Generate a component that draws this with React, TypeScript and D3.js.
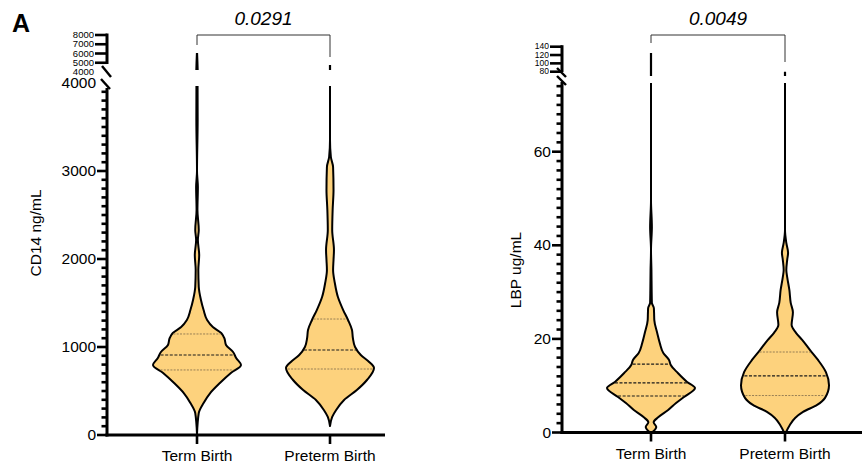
import React, { useEffect } from "react";
import * as d3 from "d3";

const groups = ["Term Birth", "Preterm Birth"];

// CD14 violins: level (ng/mL) and relative half-width
const cd14TermLevels = [10, 250, 364, 477, 591, 705, 795, 875, 943, 1023, 1102, 1159, 1227, 1307, 1420, 1534, 1682, 1875, 2045, 2216, 2330, 2557, 2818, 3000, 3580, 6050];
const cd14TermWidths = [0, 0.04, 0.15, 0.3, 0.52, 0.77, 1, 0.89, 0.82, 0.66, 0.62, 0.55, 0.36, 0.23, 0.15, 0.09, 0.04, 0.03, 0.05, 0.02, 0.04, 0.01, 0.02, 0, 0.015, 0];
const cd14PretermLevels = [102, 205, 284, 398, 511, 625, 761, 830, 909, 1000, 1102, 1193, 1307, 1420, 1568, 1727, 1875, 1989, 2102, 2330, 2557, 2784, 3045, 3159, 3352, 4750];
const cd14PretermWidths = [0, 0.05, 0.14, 0.32, 0.61, 0.84, 1, 0.89, 0.7, 0.57, 0.52, 0.5, 0.41, 0.3, 0.18, 0.11, 0.07, 0.08, 0.09, 0.05, 0.06, 0.08, 0.07, 0.02, 0, 0];
// Q1, median, Q3
const cd14TermQuartiles = [739, 909, 1148];
const cd14PretermQuartiles = [750, 966, 1318];

// LBP violins (ug/mL)
const lbpTermLevels = [0, 1.2, 2.2, 3.3, 4.8, 6.3, 7.6, 9.5, 10.8, 12.7, 14.4, 15.5, 17.0, 19.1, 21.3, 24.0, 25.5, 26.6, 27.7, 30.4, 34.7, 39.0, 43.9, 49.7, 125];
const lbpTermWidths = [0.02, 0.12, 0.06, 0.17, 0.39, 0.57, 0.75, 1, 0.82, 0.61, 0.45, 0.41, 0.28, 0.2, 0.14, 0.075, 0.07, 0.065, 0.02, 0.015, 0.01, 0, 0.02, 0, 0];
const lbpPretermLevels = [0, 1.6, 3.1, 4.4, 5.9, 7.4, 10.1, 12.9, 15.5, 17.6, 19.8, 21.3, 23.0, 25.7, 27.7, 30.4, 33.2, 34.7, 36.9, 38.4, 40.5, 43.3, 80];
const lbpPretermWidths = [0.02, 0.11, 0.23, 0.41, 0.73, 0.91, 1, 0.93, 0.75, 0.57, 0.39, 0.25, 0.15, 0.18, 0.13, 0.1, 0.05, 0.03, 0.05, 0.07, 0.03, 0, 0];
const lbpTermQuartiles = [7.8, 10.6, 14.6];
const lbpPretermQuartiles = [7.9, 12.1, 17.2];

const cd14LowerTicks = [0, 1000, 2000, 3000];
const cd14LowerLabels = [0, 1000, 2000, 3000, 4000];
const cd14UpperTicks = [5000, 6000, 7000, 8000];
const cd14UpperLabels = [4000, 5000, 6000, 7000, 8000];
const lbpLowerTicks = [0, 20, 40, 60];
const lbpUpperTicks = [80, 100, 120, 140];
const pValues = ["0.0291", "0.0049"];

const FONT = "Arial, 'Liberation Sans', Helvetica, sans-serif";
const FILL = "#fdd27d";
const HALF = 44;

type Violin = { levels: number[]; widths: number[]; quartiles: number[]; darkQ?: boolean };
type Cfg = {
  id: string;
  axisX: number; axisEnd: number; baseY: number;
  lowerDomain: [number, number]; lowerRange: [number, number];
  upperDomain: [number, number]; upperRange: [number, number];
  majorTicks: number[]; majorLabels: number[]; minorCount: number;
  upperTicks: number[]; upperLabels: number[]; upperFont: number;
  band: [number, number];
  upperClipBottom: number; lowerClipTop: number;
  upperAxisBottom: number; lowerAxisTop: number;
  slashes: [number, number, number, number][];
  violins: Violin[];
  title: string; titleY: number; titleX: number;
  pValue: string; legs: [number, number];
};

function Panel({ cfg }: { cfg: Cfg }) {
  const yLow = d3.scaleLinear().domain(cfg.lowerDomain).range(cfg.lowerRange);
  const yUp = d3.scaleLinear().domain(cfg.upperDomain).range(cfg.upperRange);
  const x = d3.scaleBand<string>().domain(groups).range(cfg.band);
  const cx = (g: string) => (x(g) as number) + x.bandwidth() / 2;
  const minors = yLow.ticks(cfg.minorCount).filter((v) => !cfg.majorLabels.includes(v) && v < cfg.lowerDomain[1]);
  const ax = cfg.axisX;

  const violinPath = (v: Violin, c: number, y: d3.ScaleLinear<number, number>) => {
    const pts = v.levels.map((l, i) => [l, v.widths[i]] as [number, number]);
    return d3
      .area<[number, number]>()
      .curve(d3.curveMonotoneY)
      .y((d) => y(d[0]))
      .x0((d) => c - d[1] * HALF)
      .x1((d) => c + d[1] * HALF)(pts) as string;
  };

  return (
    <g>
      <defs>
        <clipPath id={`${cfg.id}-up`}>
          <rect x={0} y={30} width={867} height={cfg.upperClipBottom - 30} />
        </clipPath>
        <clipPath id={`${cfg.id}-low`}>
          <rect x={0} y={cfg.lowerClipTop} width={867} height={450 - cfg.lowerClipTop} />
        </clipPath>
      </defs>

      {cfg.violins.map((v, i) => {
        const c = cx(groups[i]);
        const wAt = d3.scaleLinear().domain(v.levels).range(v.widths);
        return (
          <g key={i}>
            <g clipPath={`url(#${cfg.id}-low)`}>
              <path d={violinPath(v, c, yLow)} fill={FILL} stroke="#000" strokeWidth={2} strokeLinejoin="round" />
              {v.quartiles.map((q, k) => {
                const hw = Math.max(0, wAt(q) * HALF - 1.2);
                const med = k === 1;
                const dark = med || v.darkQ;
                return (
                  <line key={k} x1={c - hw} x2={c + hw} y1={yLow(q)} y2={yLow(q)}
                    stroke={dark ? "#1a1a1a" : "#8c7650"} strokeWidth={dark ? 1.2 : 0.9}
                    strokeDasharray={dark ? "3,1.6" : "2,1.3"} />
                );
              })}
            </g>
            <g clipPath={`url(#${cfg.id}-up)`}>
              <path d={violinPath(v, c, yUp)} fill={FILL} stroke="#000" strokeWidth={2.2} strokeLinecap="round" />
            </g>
          </g>
        );
      })}

      {/* significance bracket */}
      <path
        d={`M${cx(groups[0])},${cfg.legs[0]}V35H${cx(groups[1])}V${cfg.legs[1]}`}
        fill="none" stroke="#333" strokeWidth={1}
      />
      <text x={(cx(groups[0]) + cx(groups[1])) / 2} y={25} textAnchor="middle" fontStyle="italic" fontSize={19} fontFamily={FONT}>
        {cfg.pValue}
      </text>

      {/* lower y axis */}
      <line x1={ax} x2={ax} y1={cfg.lowerAxisTop} y2={cfg.baseY + 1.5} stroke="#000" strokeWidth={3} />
      {cfg.majorTicks.map((t) => (
        <line key={t} x1={ax - 10} x2={ax} y1={yLow(t)} y2={yLow(t)} stroke="#000" strokeWidth={2.6} />
      ))}
      {minors.map((t) => (
        <line key={t} x1={ax - 5.5} x2={ax} y1={yLow(t)} y2={yLow(t)} stroke="#000" strokeWidth={2.6} />
      ))}
      {cfg.majorLabels.map((t) => (
        <text key={t} x={ax - 11} y={yLow(t) + 1} textAnchor="end" dominantBaseline="middle" fontSize={15.5} fontFamily={FONT}>
          {t}
        </text>
      ))}

      {/* upper y axis */}
      <line x1={ax} x2={ax} y1={yUp(cfg.upperDomain[1]) - 1.5} y2={cfg.upperAxisBottom} stroke="#000" strokeWidth={3} />
      {cfg.upperTicks.map((t) => (
        <line key={t} x1={ax - 12} x2={ax} y1={yUp(t)} y2={yUp(t)} stroke="#000" strokeWidth={2.6} />
      ))}
      {cfg.upperLabels.map((t) => (
        <text key={t} x={ax - 13} y={yUp(t) + 0.5} textAnchor="end" dominantBaseline="middle" fontSize={cfg.upperFont} fontFamily={FONT}>
          {t}
        </text>
      ))}
      {cfg.slashes.map((s, i) => (
        <line key={i} x1={s[0]} y1={s[1]} x2={s[2]} y2={s[3]} stroke="#000" strokeWidth={2.4} />
      ))}

      {/* x axis */}
      <line x1={ax - 1.5} x2={cfg.axisEnd} y1={cfg.baseY} y2={cfg.baseY} stroke="#000" strokeWidth={3} />
      {groups.map((g) => (
        <g key={g}>
          <line x1={cx(g)} x2={cx(g)} y1={cfg.baseY} y2={cfg.baseY + 9} stroke="#000" strokeWidth={2.6} />
          <text x={cx(g)} y={cfg.baseY + 26} textAnchor="middle" fontSize={15.5} fontFamily={FONT}>
            {g}
          </text>
        </g>
      ))}

      <text transform={`translate(${cfg.titleX},${cfg.titleY}) rotate(-90)`} textAnchor="middle" dominantBaseline="middle" fontSize={15.5} fontFamily={FONT}>
        {cfg.title}
      </text>
    </g>
  );
}

export default function App() {
  useEffect(() => {
    document.body.style.margin = "0";
  }, []);

  const left: Cfg = {
    id: "cd14",
    axisX: 107, axisEnd: 385, baseY: 435,
    lowerDomain: [0, 4000], lowerRange: [435, 83],
    upperDomain: [4000, 8000], upperRange: [72, 35],
    majorTicks: cd14LowerTicks, majorLabels: cd14LowerLabels, minorCount: 40,
    upperTicks: cd14UpperTicks, upperLabels: cd14UpperLabels, upperFont: 9.5,
    band: [130.5, 396.5],
    upperClipBottom: 70, lowerClipTop: 86,
    upperAxisBottom: 64, lowerAxisTop: 88,
    slashes: [[102, 66, 111, 77], [101, 79, 110, 89]],
    violins: [
      { levels: cd14TermLevels, widths: cd14TermWidths, quartiles: cd14TermQuartiles },
      { levels: cd14PretermLevels, widths: cd14PretermWidths, quartiles: cd14PretermQuartiles },
    ],
    title: "CD14 ng/mL", titleX: 37, titleY: 233,
    pValue: pValues[0], legs: [45, 57],
  };

  const right: Cfg = {
    id: "lbp",
    axisX: 562, axisEnd: 862, baseY: 432.5,
    lowerDomain: [0, 75], lowerRange: [432.5, 81.5],
    upperDomain: [80, 140], upperRange: [71.7, 46.7],
    majorTicks: lbpLowerTicks, majorLabels: lbpLowerTicks, minorCount: 38,
    upperTicks: lbpUpperTicks, upperLabels: lbpUpperTicks, upperFont: 8.5,
    band: [584, 852],
    upperClipBottom: 76, lowerClipTop: 83,
    upperAxisBottom: 72, lowerAxisTop: 82,
    slashes: [[557, 68, 566, 77], [557, 76, 566, 85]],
    violins: [
      { levels: lbpTermLevels, widths: lbpTermWidths, quartiles: lbpTermQuartiles, darkQ: true },
      { levels: lbpPretermLevels, widths: lbpPretermWidths, quartiles: lbpPretermQuartiles },
    ],
    title: "LBP ug/mL", titleX: 517, titleY: 270,
    pValue: pValues[1], legs: [43, 62],
  };

  return (
    <svg width={867} height={466} viewBox="0 0 867 466" style={{ display: "block", position: "absolute", left: 0, top: 0, background: "#fff" }}>
      <rect width={867} height={466} fill="#fff" />
      <text x={12} y={32} fontSize={25} fontWeight="bold" fontFamily={FONT}>A</text>
      <Panel cfg={left} />
      <Panel cfg={right} />
    </svg>
  );
}
